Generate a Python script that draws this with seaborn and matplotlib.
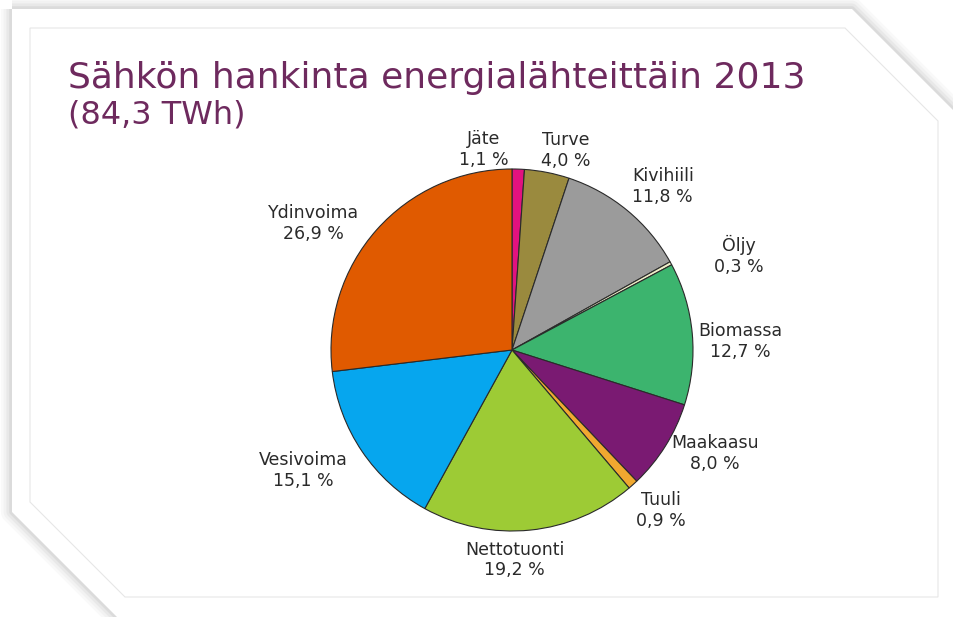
import numpy as np
import matplotlib
matplotlib.use("Agg")
import matplotlib.pyplot as plt
import seaborn as sns
from matplotlib.patches import Polygon

categories = ["Jäte", "Turve", "Kivihiili", "Öljy", "Biomassa", "Maakaasu",
              "Tuuli", "Nettotuonti", "Vesivoima", "Ydinvoima"]
shares = [1.1, 4.0, 11.8, 0.3, 12.7, 8.0, 0.9, 19.2, 15.1, 26.9]
pct_labels = ["1,1 %", "4,0 %", "11,8 %", "0,3 %", "12,7 %", "8,0 %",
              "0,9 %", "19,2 %", "15,1 %", "26,9 %"]
colors = ["#e2127f", "#9a8a3e", "#9b9b9b", "#eeeec8", "#3cb46e", "#7a1a72",
          "#f0a830", "#9dcb35", "#06a6ee", "#e05a00"]
title_line1 = "Sähkön hankinta energialähteittäin 2013"
title_line2 = "(84,3 TWh)"

# label placement style: angular offset (deg) and radial distance
label_dang = [10, -4, -3, -6, -3, 5, 1, -5, -4, 9]
label_dist = [1.12, 1.14, 1.23, 1.36, 1.26, 1.26, 1.21, 1.16, 1.33, 1.30]

sns.set_theme(style="white")
plt.rcParams['font.family'] = ['DejaVu Sans']

W, H = 954, 617
fig = plt.figure(figsize=(W / 100, H / 100), dpi=100)
fig.patch.set_facecolor("white")

def fp(pts):
    return [(x / W, 1 - y / H) for x, y in pts]

card = [(12, 9), (852, 9), (964, 121), (964, 630), (130, 630), (12, 512)]
# shadow
for lw, a in [(16, 0.04), (12, 0.05), (8, 0.07), (4, 0.10)]:
    fig.patches.append(Polygon(fp(card), closed=True, transform=fig.transFigure,
                               facecolor="none", edgecolor="#707070", lw=lw,
                               alpha=a, joinstyle="round", zorder=0))
fig.patches.append(Polygon(fp(card), closed=True, transform=fig.transFigure,
                           facecolor="white", edgecolor="none", zorder=1))
inner = [(30, 28), (845, 28), (938, 121), (938, 597), (125, 597), (30, 502)]
fig.patches.append(Polygon(fp(inner), closed=True, transform=fig.transFigure,
                           facecolor="none", edgecolor="#e6e6e6", lw=0.8, zorder=2))

fig.text(68 / W, 1 - 88 / H, title_line1, color="#6e2a5e", fontsize=26,
         va="baseline", ha="left", zorder=3)
fig.text(68 / W, 1 - 123 / H, title_line2, color="#6e2a5e", fontsize=23,
         va="baseline", ha="left", zorder=3)

cx, cy, r = 512, 350, 181
ax = fig.add_axes([(cx - r) / W, (H - cy - r) / H, 2 * r / W, 2 * r / H])
ax.set_zorder(4)
wedges, _ = ax.pie(shares, colors=colors, startangle=90, counterclock=False,
                   wedgeprops=dict(edgecolor="#2a2a2a", linewidth=0.8))
ax.set_xlim(-1, 1)
ax.set_ylim(-1, 1)
ax.set_aspect("equal")
ax.axis("off")

for w, name, pl, da, d in zip(wedges, categories, pct_labels, label_dang, label_dist):
    ang = np.deg2rad((w.theta1 + w.theta2) / 2 + da)
    ax.text(d * np.cos(ang), d * np.sin(ang), f"{name}\n{pl}", ha="center",
            va="center", fontsize=12.5, color="#2a2a2a", linespacing=1.2,
            clip_on=False)

fig.savefig("out.png", dpi=100, facecolor="white")
